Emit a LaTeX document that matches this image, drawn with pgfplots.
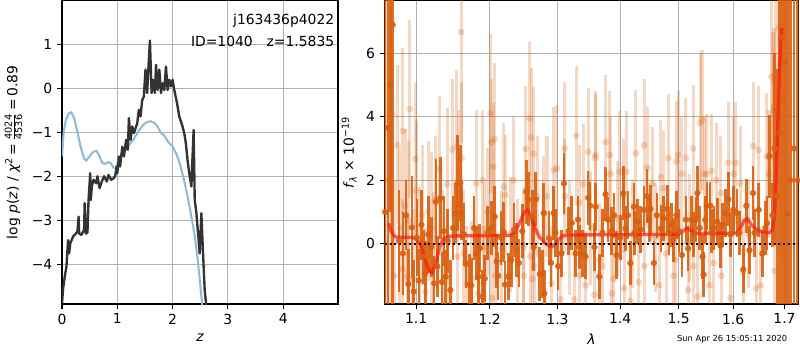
\documentclass[border=0pt]{standalone}
\usepackage{fontspec}
\setmainfont{DejaVu Sans}
\usepackage{pgfplots}
\pgfplotsset{compat=1.18}
\usepackage{pgfplotstable}
\definecolor{dorange}{RGB}{217,95,14}
\definecolor{gridgray}{RGB}{176,176,176}
\definecolor{pzblack}{RGB}{51,51,51}
\definecolor{chiblue}{RGB}{31,119,180}
\definecolor{modred}{RGB}{250,25,15}

\pgfplotstableread{
z y
0.00 -1.55
0.03 -1.00
0.07 -0.72
0.12 -0.58
0.17 -0.55
0.22 -0.68
0.28 -1.00
0.34 -1.35
0.40 -1.60
0.44 -1.64
0.50 -1.55
0.56 -1.45
0.62 -1.42
0.67 -1.52
0.73 -1.70
0.78 -1.72
0.83 -1.68
0.88 -1.70
0.93 -1.80
0.97 -1.82
1.02 -1.65
1.08 -1.50
1.15 -1.40
1.22 -1.28
1.30 -1.15
1.38 -0.98
1.45 -0.86
1.52 -0.78
1.60 -0.75
1.66 -0.78
1.72 -0.85
1.78 -1.00
1.85 -1.08
1.92 -1.22
2.00 -1.33
2.07 -1.50
2.14 -1.75
2.20 -2.05
2.27 -2.45
2.33 -2.85
2.40 -3.35
2.45 -3.85
2.50 -4.45
2.54 -5.00
}\chidata

\pgfplotstableread{
z y
0.00 -4.89
0.02 -4.55
0.05 -4.28
0.08 -4.05
0.11 -3.45
0.13 -3.75
0.15 -3.52
0.20 -3.37
0.25 -3.30
0.28 -3.25
0.30 -2.92
0.31 -3.30
0.35 -3.33
0.40 -3.22
0.41 -2.61
0.43 -3.30
0.46 -3.28
0.48 -2.54
0.51 -1.93
0.52 -2.54
0.54 -2.23
0.57 -2.08
0.62 -2.16
0.64 -2.00
0.68 -2.27
0.72 -2.12
0.76 -2.00
0.81 -2.12
0.84 -1.97
0.89 -2.08
0.93 -2.05
0.96 -2.00
0.99 -1.78
1.00 -1.93
1.03 -1.55
1.05 -1.78
1.09 -1.33
1.12 -1.55
1.16 -1.17
1.19 -1.40
1.21 -0.68
1.24 -1.17
1.27 -0.87
1.30 -1.02
1.36 -0.80
1.39 -0.49
1.42 -0.64
1.45 -0.27
1.48 -0.19
1.51 0.42
1.54 -0.11
1.57 0.64
1.59 1.08
1.62 -0.11
1.65 0.19
1.68 -0.11
1.70 0.53
1.73 -0.04
1.76 0.42
1.79 -0.11
1.82 0.11
1.85 -0.04
1.88 0.49
1.91 -0.04
1.94 0.19
1.97 0.04
2.00 0.19
2.03 -0.04
2.08 -0.34
2.12 -0.64
2.18 -0.87
2.21 -1.02
2.24 -1.25
2.27 -1.63
2.30 -1.93
2.34 -2.23
2.35 -1.86
2.38 -0.95
2.40 -2.54
2.43 -2.84
2.46 -3.30
2.49 -3.75
2.52 -2.84
2.55 -3.75
2.58 -4.58
2.61 -4.95
}\pzdata

\pgfplotstableread{
l f e
1.0605 1.0 12
1.0640 3.65 12
1.0670 5.0 4
1.0700 6.89 12
1.0780 0.1 1.6
1.0830 -0.3 1.3
1.0870 0.9 1.1
1.0900 -1.26 1.1
1.0945 0.52 1.6
1.0970 -1.5 1.0
1.1010 0.2 1.2
1.1036 -1.15 1.0
1.1070 0.6 1.1
1.1100 -0.4 0.85
1.1120 -0.92 1.0
1.1160 0.3 1.2
1.1200 -0.1 0.95
1.1237 -1.24 0.85
1.1260 1.32 1.35
1.1280 -0.71 0.95
1.1320 1.44 1.3
1.1340 -1.2 0.95
1.1370 0.4 1.1
1.1390 -1.03 0.85
1.1420 0.1 1.0
1.1455 -1.45 0.95
1.1490 0.5 1.0
1.1520 0.97 0.95
1.1555 1.91 1.5
1.1590 1.91 1.2
1.1610 0.97 0.85
1.1640 0.3 1.0
1.1670 -0.63 0.75
1.1720 -1.28 0.95
1.1740 -1.3 0.85
1.1780 0.5 1.0
1.1810 -0.3 0.85
1.1840 -1.03 0.95
1.1860 -0.14 0.75
1.1900 -1.66 0.85
1.1930 -1.09 0.75
1.1970 0.35 0.85
1.2025 0.49 0.85
1.2070 0.86 0.95
1.2100 -0.55 0.85
1.2120 -1.0 0.75
1.2160 0.2 0.85
1.2200 0.37 0.95
1.2220 -1.28 0.75
1.2270 -1.03 0.75
1.2310 -0.5 0.85
1.2350 0.45 0.85
1.2390 -0.2 0.85
1.2420 -0.6 0.75
1.2470 0.4 0.85
1.2530 1.64 1.0
1.2560 1.4 0.85
1.2620 0.86 0.85
1.2640 -0.1 0.75
1.2670 1.4 0.85
1.2730 -0.95 0.85
1.2770 -0.95 0.75
1.2790 0.97 0.95
1.2800 -1.56 0.75
1.2870 0.18 0.85
1.2900 -0.6 0.75
1.2940 0.97 0.85
1.2970 0.35 0.75
1.3010 -0.7 0.75
1.3060 -0.3 0.75
1.3100 1.9 0.95
1.3170 0.4 0.75
1.3220 0.66 0.85
1.3280 -0.3 0.75
1.3320 0.76 0.75
1.3340 -0.1 0.7
1.3390 -0.3 0.75
1.3440 -0.4 0.7
1.3480 1.45 0.85
1.3510 1.2 0.75
1.3580 -0.1 0.75
1.3600 1.17 0.75
1.3660 -1.03 0.7
1.3710 0.35 0.75
1.3760 1.56 0.85
1.3800 0.76 0.7
1.3860 0.4 0.75
1.3900 0.9 0.7
1.3940 -0.35 0.75
1.4000 0.2 0.7
1.4050 1.59 0.85
1.4090 0.48 0.7
1.4130 0.9 0.75
1.4170 -0.6 0.7
1.4230 1.17 0.75
1.4240 0.35 0.7
1.4290 0.7 0.7
1.4340 0.45 0.75
1.4400 1.07 0.75
1.4450 1.5 0.85
1.4490 0.76 0.7
1.4510 1.1 0.75
1.4570 -0.6 0.7
1.4620 0.9 0.7
1.4690 0.48 0.75
1.4730 0.8 0.7
1.4800 1.1 0.75
1.4830 0.35 0.7
1.4870 0.6 0.7
1.4910 0.13 0.7
1.4960 0.9 0.75
1.5010 0.4 0.7
1.5060 -0.35 0.7
1.5130 0.76 0.75
1.5170 -0.15 0.7
1.5230 0.76 0.75
1.5270 0.3 0.7
1.5310 0.76 0.7
1.5340 1.6 0.85
1.5380 0.5 0.7
1.5430 -0.4 0.7
1.5450 -0.97 0.7
1.5480 0.75 0.75
1.5510 1.2 0.75
1.5570 1.2 0.75
1.5600 0.4 0.7
1.5640 0.5 0.7
1.5700 0.7 0.75
1.5760 -0.05 0.7
1.5800 0.6 0.7
1.5850 0.97 0.75
1.5910 1.4 0.85
1.5950 0.3 0.7
1.6000 1.07 0.75
1.6070 0.97 0.75
1.6120 0.35 0.7
1.6190 -0.8 0.75
1.6250 1.2 0.85
1.6310 -0.2 0.75
1.6380 1.6 0.85
1.6410 0.35 0.75
1.6490 1.07 0.85
1.6560 -0.3 0.75
1.6620 0.5 0.85
1.6650 0.65 0.85
1.6700 2.75 1.3
1.6760 0.9 1.0
1.6800 3.0 3.0
1.6850 1.5 4
1.6900 3.5 6
1.6955 6.5 10
1.7018 5.73 10
1.7060 0.94 10
1.7115 2.0 10
1.7195 3.0 10
1.7268 2.0 10
}\darkdata

\pgfplotstableread{
l f e
1.0615 0.0 10
1.0655 2.0 10
1.0690 4.1 3.5
1.0720 -1.0 3
1.0760 3.11 2.5
1.0790 0.5 2.5
1.0820 -0.8 2.2
1.0830 3.55 2.6
1.0860 1.2 2.4
1.0890 -1.03 2.0
1.0900 0.72 2.5
1.0920 4.24 2.8
1.0960 -1.1 2.2
1.0990 2.67 2.4
1.1000 1.67 2.2
1.1040 -0.2 2.0
1.1080 0.9 2.2
1.1120 -1.5 2.0
1.1160 1.03 2.2
1.1200 0.5 2.4
1.1230 -0.58 2.2
1.1250 1.4 2.0
1.1310 2.35 2.3
1.1350 -0.3 2.0
1.1410 1.88 2.4
1.1415 -1.03 1.8
1.1480 2.97 2.2
1.1540 3.07 2.4
1.1550 -0.4 2.0
1.1570 2.2 2.0
1.1600 6.66 3.5
1.1605 2.7 2.4
1.1640 -0.3 2.0
1.1680 -1.24 1.8
1.1750 -1.09 1.8
1.1810 1.9 2.3
1.1840 -1.56 1.9
1.1900 2.0 2.2
1.1910 -1.24 1.8
1.1930 -0.1 2.0
1.1970 1.0 2.0
1.2010 4.1 2.5
1.2025 3.2 2.0
1.2030 -1.7 1.8
1.2050 2.42 2.0
1.2070 3.3 2.4
1.2075 -1.0 1.9
1.2170 -0.15 1.8
1.2200 1.8 2.0
1.2220 1.54 1.9
1.2300 0.3 1.8
1.2340 2.0 2.0
1.2400 -0.4 1.8
1.2490 -0.1 1.9
1.2495 -1.0 1.8
1.2520 2.98 2.0
1.2580 3.95 2.4
1.2590 -0.4 1.8
1.2600 3.34 2.2
1.2620 -1.1 1.8
1.2640 2.83 2.1
1.2645 -0.7 1.8
1.2690 1.5 1.9
1.2790 0.97 1.8
1.2840 1.5 1.9
1.2910 -1.24 1.8
1.2940 2.32 2.0
1.2990 2.37 2.0
1.3045 -1.75 1.8
1.3110 3.0 2.1
1.3115 1.5 1.8
1.3180 0.2 1.8
1.3260 -1.75 1.8
1.3290 3.4 2.2
1.3340 1.3 1.8
1.3345 -1.0 1.8
1.3400 1.87 1.9
1.3440 -1.3 1.7
1.3480 2.9 2.0
1.3520 0.5 1.8
1.3580 -1.6 1.7
1.3590 2.7 2.0
1.3600 2.8 2.0
1.3660 -0.5 1.8
1.3710 -0.7 1.7
1.3760 3.2 2.1
1.3830 2.8 2.0
1.3840 2.2 1.8
1.3860 -1.56 1.7
1.3890 -1.1 1.8
1.3950 0.8 1.8
1.3990 2.27 1.9
1.4060 1.5 1.8
1.4065 -1.4 1.7
1.4100 2.27 1.9
1.4170 -1.8 1.7
1.4200 0.3 1.7
1.4260 2.85 2.0
1.4310 -1.2 1.7
1.4400 3.1 2.1
1.4405 -0.7 1.7
1.4460 2.4 1.9
1.4540 1.88 1.8
1.4600 0.2 1.7
1.4660 -1.3 1.7
1.4690 2.1 1.8
1.4730 1.75 1.8
1.4780 -0.3 1.7
1.4820 2.7 2.0
1.4910 -1.0 1.7
1.4940 -0.5 1.7
1.4960 2.6 1.9
1.4990 2.8 2.0
1.5060 2.2 1.8
1.5130 2.7 1.9
1.5170 -1.45 1.7
1.5200 0.5 1.7
1.5260 3.0 2.0
1.5265 -0.7 1.7
1.5340 -1.66 1.7
1.5390 3.8 2.2
1.5420 3.9 2.2
1.5460 2.2 1.8
1.5510 2.2 1.9
1.5560 -1.3 1.7
1.5600 2.3 1.8
1.5630 -0.6 1.7
1.5680 2.0 1.8
1.5770 1.6 1.8
1.5775 -1.0 1.7
1.5910 2.55 1.9
1.5950 -1.7 1.7
1.6010 2.2 1.8
1.6050 2.55 1.9
1.6130 1.9 1.8
1.6190 -0.9 1.7
1.6300 0.3 1.7
1.6380 3.08 2.0
1.6440 -1.4 1.7
1.6490 2.95 2.0
1.6530 -1.3 1.7
1.6650 2.75 2.0
1.6690 2.2 2.0
1.6740 5.25 2.5
1.6770 4.16 2.5
1.6790 4.3 2.5
1.6800 -0.85 2.0
1.6810 5.1 3
1.6890 6.8 4
1.6950 4.5 5
}\lightdata

\pgfplotstableread{
l f
1.0650 0.65
1.0680 0.40
1.0720 0.25
1.0760 0.21
1.0950 0.21
1.1000 0.15
1.1050 0.02
1.1100 -0.35
1.1150 -0.75
1.1210 -0.92
1.1260 -0.60
1.1310 -0.10
1.1360 0.15
1.1420 0.23
1.1500 0.25
1.2300 0.27
1.2370 0.40
1.2440 0.70
1.2500 1.00
1.2550 1.07
1.2600 0.85
1.2660 0.50
1.2730 0.20
1.2800 0.05
1.2870 -0.06
1.2910 -0.10
1.2960 -0.02
1.3020 0.15
1.3080 0.25
1.3150 0.28
1.5000 0.30
1.5080 0.40
1.5150 0.51
1.5220 0.42
1.5300 0.33
1.6050 0.33
1.6120 0.45
1.6200 0.72
1.6270 0.80
1.6340 0.62
1.6420 0.48
1.6550 0.38
1.6700 0.35
1.6760 0.45
1.6800 0.90
1.6830 2.00
1.6860 3.50
1.6890 5.00
1.6920 6.20
1.6950 6.80
}\modeldata

\pgfplotsset{
  mpl/.style={
    scale only axis,
    axis line style={line width=0.8pt},
    grid=major,
    major grid style={gridgray, line width=0.8pt},
    tick align=outside,
    major tick length=3.5pt,
    every tick/.style={black, line width=0.8pt},
    tick pos=left,
    minor tick num=0,
    tick label style={font=\fontsize{10}{12}\selectfont},
    label style={font=\fontsize{10}{12}\selectfont},
    /pgf/number format/assume math mode=true,
  }
}

\begin{document}
\begin{tikzpicture}
\path[use as bounding box] (0,0) rectangle (576pt,252pt);

\begin{axis}[mpl,
  at={(44.64pt,33.12pt)}, anchor=south west,
  width=198.7pt, height=218.2pt,
  xmin=0, xmax=4.99, ymin=-4.9, ymax=1.98,
  xtick={0,1,2,3,4}, xticklabels={0,1,2,3,4},
  ytick={-4,-3,-2,-1,0,1}, yticklabels={−4,−3,−2,−1,0,1},
  xlabel={\itshape z},
  ylabel={log \textit{p}(\textit{z}) / \textit{χ}\textsuperscript{2}\,=\,$\frac{\mbox{\scriptsize 4024}}{\mbox{\scriptsize 4536}}$\,=\,0.89},
  clip=true,
]
\addplot[chiblue!50!white, line width=1.5pt] table[x=z, y=y] {\chidata};
\addplot[pzblack, line width=1.7pt, line join=round] table[x=z, y=y] {\pzdata};
\node[anchor=north east, align=right, inner sep=0pt, font=\fontsize{10}{16}\selectfont]
  at (rel axis cs:1,1) [xshift=-2.5pt, yshift=-9pt] {j163436p4022\\ID=1040\quad z=1.5835};
\end{axis}

\begin{axis}[mpl,
  at={(277pt,33.12pt)}, anchor=south west,
  width=297.8pt, height=218.2pt,
  xmode=log, xmin=1.06, xmax=1.728, ymin=-1.89, ymax=7.64,
  xtick={1.1,1.2,1.3,1.4,1.5,1.6,1.7},
  xticklabels={1.1,1.2,1.3,1.4,1.5,1.6,1.7},
  minor xtick={},
  ytick={0,2,4,6}, yticklabels={0,2,4,6},
  xlabel={\itshape λ},
  ylabel={\textit{f}\textsubscript{\itshape λ} × 10\textsuperscript{−19}},
]
\addplot[color=dorange, only marks, mark=*, mark size=2.5pt,
  mark options={fill=dorange, draw opacity=0, fill opacity=0.25},
  error bars/.cd, y dir=both, y explicit, error mark=none,
  error bar style={dorange, line width=2.2pt, opacity=0.25}]
  table[x=l, y=f, y error=e] {\lightdata};
\addplot[color=dorange, only marks, mark=*, mark size=2.3pt,
  mark options={fill=dorange, draw opacity=0, fill opacity=0.9},
  error bars/.cd, y dir=both, y explicit, error mark=none,
  error bar style={dorange, line width=1.9pt, opacity=0.9}]
  table[x=l, y=f, y error=e] {\darkdata};
\addplot[modred, line width=2.4pt, opacity=0.7, line join=round] table[x=l, y=f] {\modeldata};
\addplot[black, line width=1.4pt, dash pattern=on 1.4pt off 2.1pt] coordinates {(1.06,0) (1.728,0)};
\end{axis}

\node[anchor=east, inner sep=0pt, font=\fontsize{6}{7}\selectfont] at (567pt,7.9pt) {Sun Apr 26 15:05:11 2020};
\end{tikzpicture}
\end{document}
